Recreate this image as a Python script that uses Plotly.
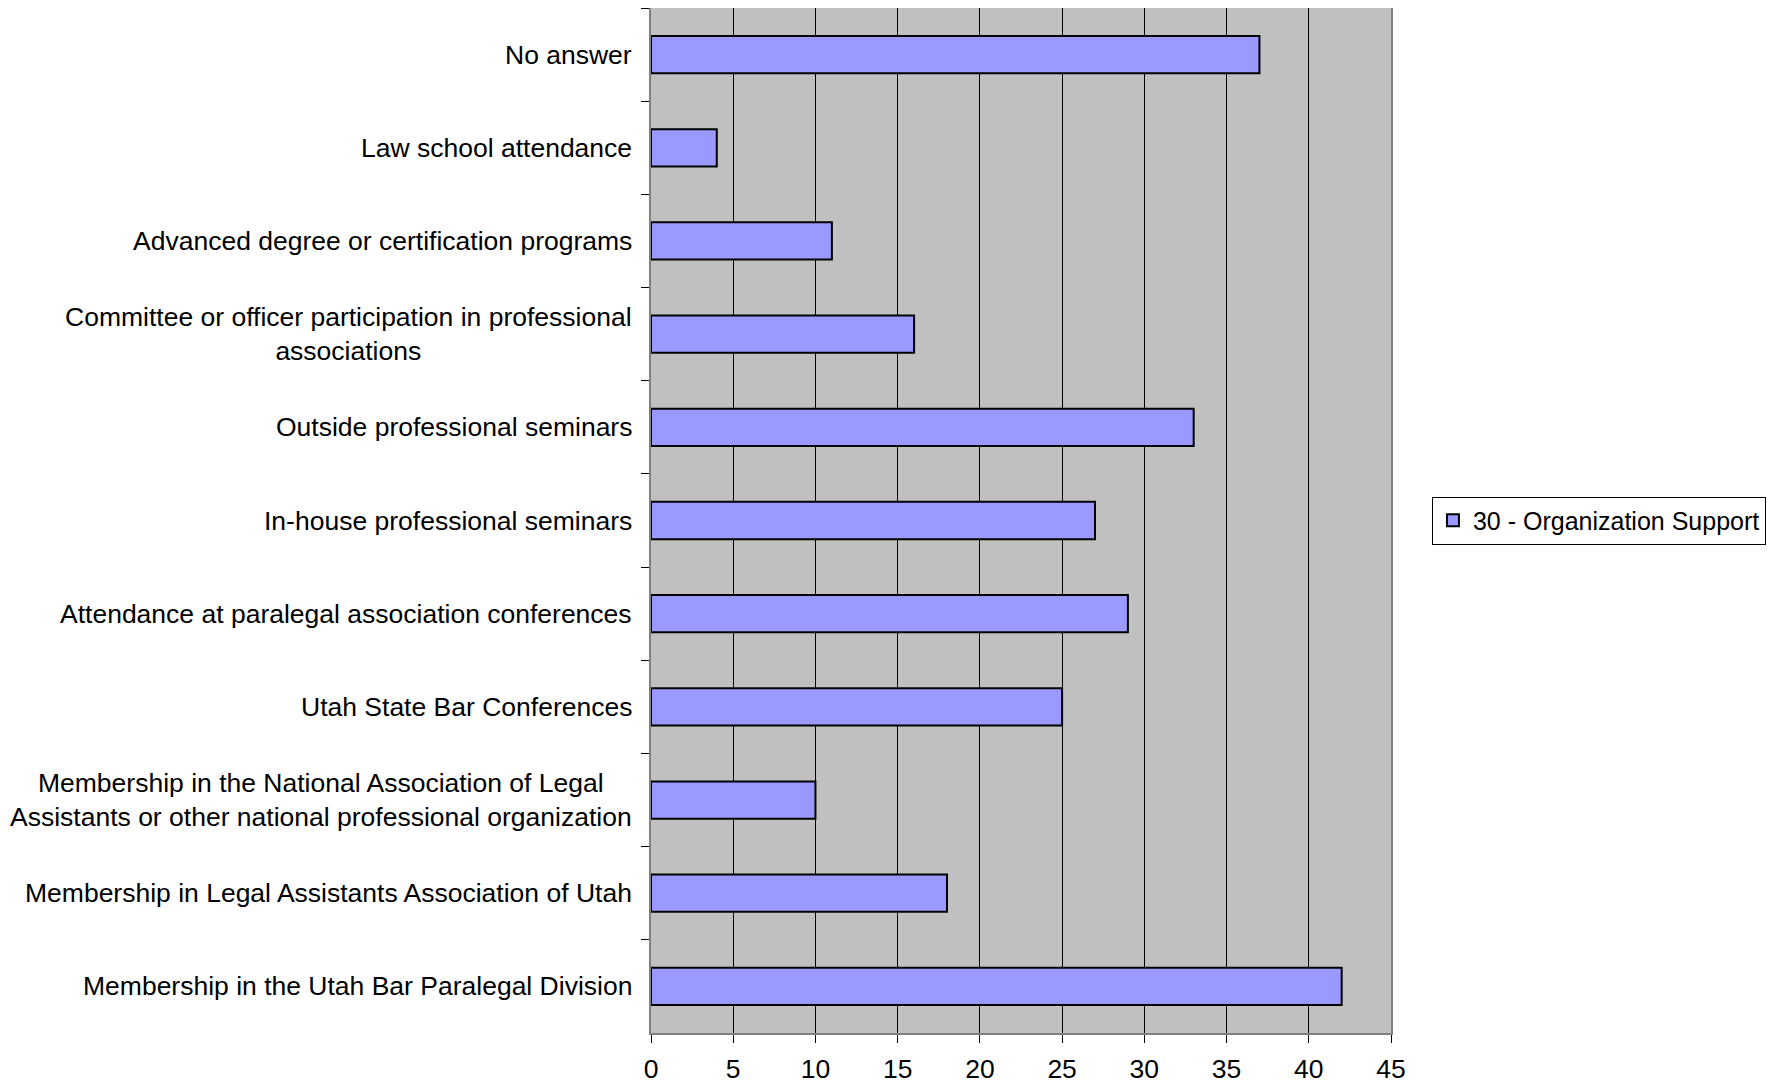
import plotly.graph_objects as go

categories = [
    "No answer",
    "Law school attendance",
    "Advanced degree or certification programs",
    "Committee or officer participation in professional<br>associations",
    "Outside professional seminars",
    "In-house professional seminars",
    "Attendance at paralegal association conferences",
    "Utah State Bar Conferences",
    "Membership in the National Association of Legal<br>Assistants or other national professional organization",
    "Membership in Legal Assistants Association of Utah",
    "Membership in the Utah Bar Paralegal Division",
]
values = [37, 4, 11, 16, 33, 27, 29, 25, 10, 18, 42]
series_name = "30 - Organization Support"
x_ticks = [0, 5, 10, 15, 20, 25, 30, 35, 40, 45]

FONT = "Liberation Sans, Arial, sans-serif"
FS = 26.5

fig = go.Figure()
fig.add_trace(go.Bar(
    x=values, y=categories, orientation="h", name=series_name,
    marker=dict(color="#9999FF", line=dict(color="black", width=2)),
    showlegend=True,
))

for c in categories:
    fig.add_annotation(
        x=0, y=c, xref="x", yref="y", text=c, showarrow=False,
        xanchor="right", yanchor="middle", align="center", xshift=-17,
        font=dict(family=FONT, size=FS, color="black"),
    )

fig.update_layout(
    width=1768, height=1079,
    margin=dict(l=643, r=385, t=0, b=54, autoexpand=False),
    paper_bgcolor="white", plot_bgcolor="#C0C0C0",
    bargap=0.6,
    font=dict(family=FONT, size=FS, color="black"),
    legend=dict(
        xref="container", yref="container",
        x=0.8054, y=0.525, xanchor="left", yanchor="middle",
        bordercolor="black", borderwidth=1, bgcolor="white",
        font=dict(family=FONT, size=25), itemwidth=30,
    ),
)
fig.update_xaxes(
    range=[0, 45], tickvals=x_ticks, ticktext=[str(t) for t in x_ticks],
    showgrid=True, gridcolor="black", gridwidth=1,
    showline=True, linecolor="#808080", linewidth=2, mirror=True,
    ticks="outside", ticklen=8, tickcolor="black", ticklabelstandoff=3,
    tickfont=dict(family=FONT, size=FS), zeroline=False, automargin=False,
)
fig.update_yaxes(
    autorange="reversed", showticklabels=False, showgrid=False,
    showline=True, linecolor="#808080", linewidth=2, mirror=True,
    ticks="outside", ticklen=8, tickcolor="black", tickson="boundaries",
    automargin=False,
)

fig.write_html("out.html")
